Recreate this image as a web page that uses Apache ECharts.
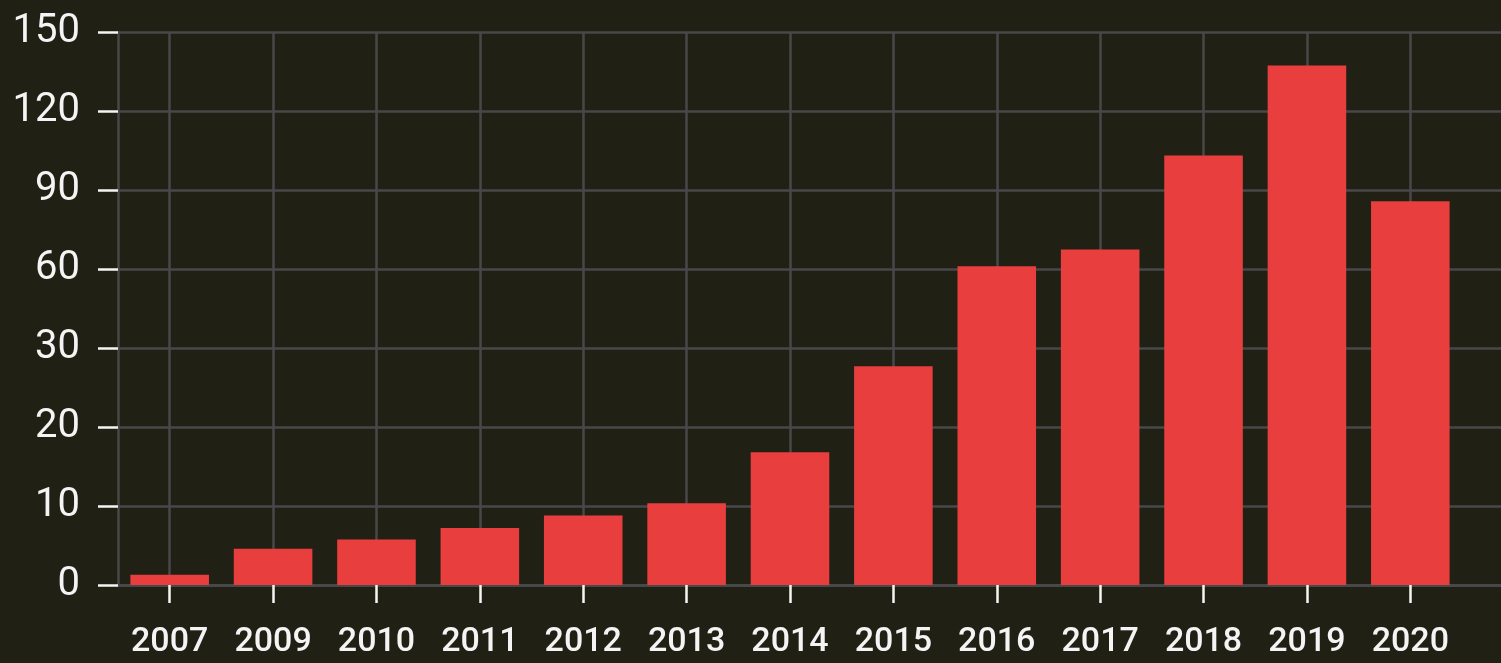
<!DOCTYPE html>
<html>
<head>
<meta charset="utf-8">
<script src="https://cdn.jsdelivr.net/npm/echarts@6/dist/echarts.min.js"></script>
<style>
html,body{margin:0;padding:0;background:#202014;overflow:hidden;}
#c{width:1501px;height:663px;}
</style>
</head>
<body>
<div id="c"></div>
<script>
const categories = ['2007','2009','2010','2011','2012','2013','2014','2015','2016','2017','2018','2019','2020'];
const values = [1.3, 4.6, 5.75, 7.2, 8.8, 10.35, 16.8, 27.7, 61.0, 67.4, 103.1, 137.3, 85.7];
const yTickLabels = ['0','10','20','30','60','90','120','150'];
const yTickValues = [0, 10, 20, 30, 60, 90, 120, 150];

// piecewise-linear axis scale: equal spacing between the listed tick values
function toAxis(v) {
  for (let i = 1; i < yTickValues.length; i++) {
    if (v <= yTickValues[i]) {
      const a = yTickValues[i - 1], b = yTickValues[i];
      return (i - 1) + (v - a) / (b - a);
    }
  }
  return yTickValues.length - 1;
}

const gridColor = '#48474a';
const textColor = '#f4f4f4';
const chart = echarts.init(document.getElementById('c'), null, {renderer: 'canvas'});
chart.setOption({
  backgroundColor: '#202014',
  animation: false,
  grid: [
    {left: 118, top: 32, bottom: 78, width: 1344, containLabel: false},
    {left: 118, top: 32, bottom: 78, right: 0, containLabel: false}
  ],
  xAxis: [{
    gridIndex: 0,
    type: 'category',
    data: categories,
    boundaryGap: true,
    axisLine: {show: false},
    axisTick: {show: true, alignWithLabel: true, length: 18, lineStyle: {color: textColor, width: 2.5}},
    splitLine: {show: true, alignWithLabel: true, lineStyle: {color: gridColor, width: 2.5}},
    axisLabel: {color: textColor, fontFamily: 'Roboto', fontSize: 34, fontWeight: 500, margin: 40, interval: 0}
  }, {
    gridIndex: 1,
    type: 'value',
    min: 0, max: 1,
    axisLine: {show: true, lineStyle: {color: gridColor, width: 3}},
    axisTick: {show: false},
    axisLabel: {show: false},
    splitLine: {show: false}
  }],
  yAxis: [{
    gridIndex: 0,
    type: 'value',
    min: 0,
    max: yTickValues.length - 1,
    interval: 1,
    axisLine: {show: true, lineStyle: {color: gridColor, width: 2.5}},
    axisTick: {show: true, length: 20, lineStyle: {color: textColor, width: 2.5}},
    splitLine: {show: false},
    axisLabel: {color: textColor, fontFamily: 'Roboto', fontSize: 40, margin: 38,
      formatter: function (v) { return yTickLabels[Math.round(v)]; }}
  }, {
    gridIndex: 1,
    type: 'value',
    min: 0,
    max: yTickValues.length - 1,
    interval: 1,
    axisLine: {show: false},
    axisTick: {show: false},
    axisLabel: {show: false},
    splitLine: {show: true, lineStyle: {color: gridColor, width: 2.5}}
  }],
  series: [{
    type: 'bar',
    xAxisIndex: 0,
    yAxisIndex: 0,
    data: values.map(toAxis),
    barCategoryGap: '24%',
    itemStyle: {color: '#e83e3e'}
  }]
});
</script>
</body>
</html>
